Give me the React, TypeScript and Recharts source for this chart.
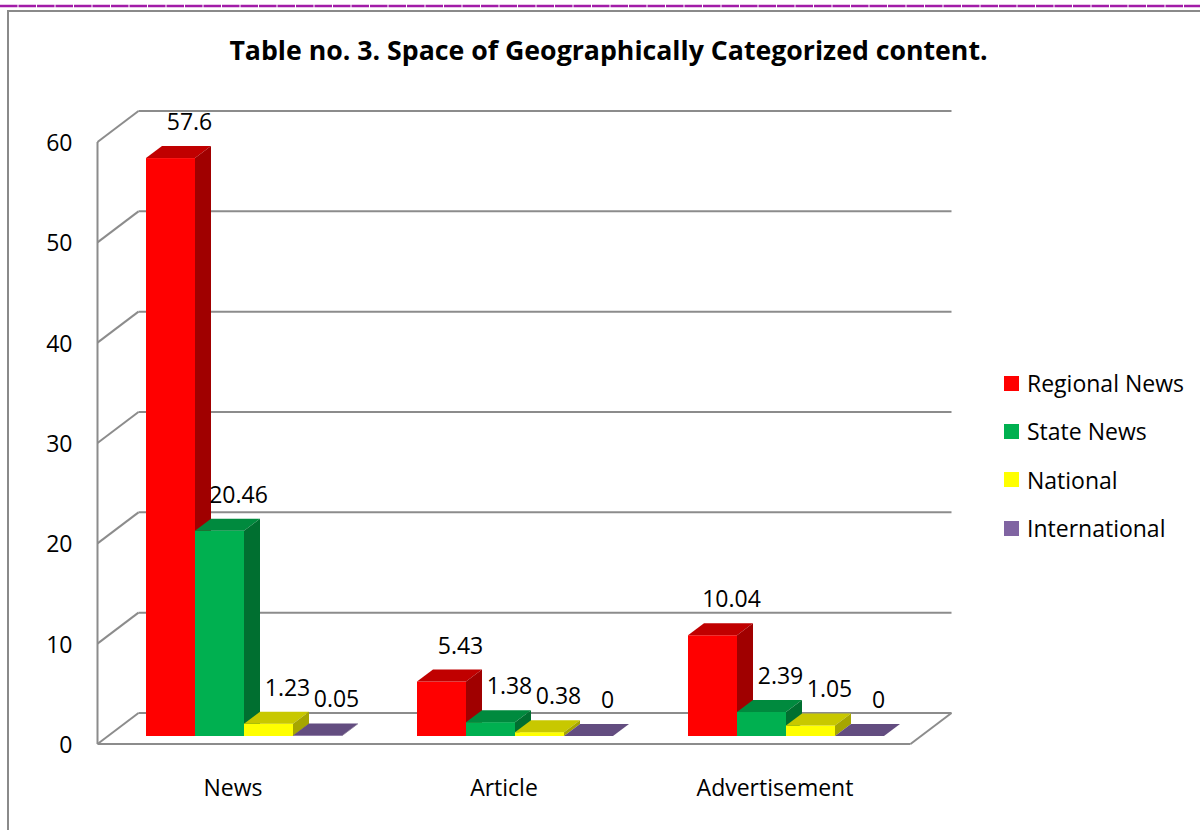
import React from 'react';
import { BarChart, Bar, XAxis, YAxis, CartesianGrid, LabelList } from 'recharts';

// ---- data ----
const categories = ['News', 'Article', 'Advertisement'];
const regionalNews = [57.6, 5.43, 10.04];
const stateNews = [20.46, 1.38, 2.39];
const national = [1.23, 0.38, 1.05];
const international = [0.05, 0, 0];
const yTicks = [0, 10, 20, 30, 40, 50, 60];
const seriesNames = ['Regional News', 'State News', 'National', 'International'];

const data = categories.map((c, i) => ({
  name: c,
  regional: regionalNews[i],
  state: stateNews[i],
  national: national[i],
  international: international[i],
}));

// ---- style / layout ----
const W = 1200;
const H = 830;
const FONT = '"Open Sans", sans-serif';
const FS = 23;
const GRID = '#8c8c8c';
const MARGIN = { top: 134, right: 278.5, left: 48.5, bottom: 34 };
const Y_AXIS_W = 60;
const X_AXIS_H = 60;
const PLOT_LEFT = MARGIN.left + Y_AXIS_W;
const PLOT_RIGHT = W - MARGIN.right;
const PLOT_BOTTOM = H - MARGIN.bottom - X_AXIS_H;
const PLOT_TOP = MARGIN.top;
// depth offsets relative to the bar plane
const FRONT = { dx: -11, dy: 8 };
const BACK = { dx: 30, dy: -23 };
const BAR_D = { dx: 16, dy: -12 };

const palettes = [
  { front: '#FF0000', top: '#C00000', side: '#A00000' },
  { front: '#00B050', top: '#008A3E', side: '#006F30' },
  { front: '#FFFF00', top: '#C8C800', side: '#A6A600' },
  { front: '#8064A2', top: '#634D80', side: '#4F3D66' },
];
const keys = ['regional', 'state', 'national', 'international'];

const makeShape = (pal: any) => (props: any) => {
  const { x, y, width, height } = props;
  if (x == null || y == null) return <g />;
  const h = Math.max(0, height || 0);
  const { dx, dy } = BAR_D;
  return (
    <g>
      <rect x={x} y={y} width={width} height={h} fill={pal.front} />
      <polygon
        points={`${x},${y} ${x + dx},${y + dy} ${x + width + dx},${y + dy} ${x + width},${y}`}
        fill={pal.top}
      />
      <polygon
        points={`${x + width},${y} ${x + width + dx},${y + dy} ${x + width + dx},${y + h + dy} ${x + width},${y + h}`}
        fill={pal.side}
      />
    </g>
  );
};

const renderLabel = (props: any) => {
  const { x, y, width, value } = props;
  if (x == null) return null;
  return (
    <text
      x={x + width / 2 + 19}
      y={y + BAR_D.dy - 25}
      textAnchor="middle"
      dominantBaseline="central"
      fontFamily={FONT}
      fontSize={FS}
      fill="#000"
    >
      {value}
    </text>
  );
};

const gridLine = (p: any) => {
  const { y1, index } = p;
  const fx1 = PLOT_LEFT + FRONT.dx;
  const fy = y1 + FRONT.dy;
  const bx1 = PLOT_LEFT + BACK.dx;
  const bx2 = PLOT_RIGHT + BACK.dx;
  const by = y1 + BACK.dy;
  const isBottom = Math.abs(y1 - PLOT_BOTTOM) < 0.5;
  const isTop = Math.abs(y1 - PLOT_TOP) < 0.5;
  return (
    <g key={`gl-${index}`}>
      <line x1={fx1} y1={fy} x2={bx1} y2={by} stroke={GRID} strokeWidth={2} />
      <line x1={bx1} y1={by} x2={bx2} y2={by} stroke={GRID} strokeWidth={2} />
      {isBottom && (
        <>
          <line x1={fx1} y1={fy} x2={PLOT_RIGHT + FRONT.dx} y2={fy} stroke={GRID} strokeWidth={2} />
          <line x1={PLOT_RIGHT + FRONT.dx} y1={fy} x2={bx2} y2={by} stroke={GRID} strokeWidth={2} />
        </>
      )}
      {isTop && (
        <line x1={fx1} y1={fy} x2={fx1} y2={PLOT_BOTTOM + FRONT.dy} stroke={GRID} strokeWidth={2} />
      )}
    </g>
  );
};

const YTick = (props: any) => {
  const { x, y, payload } = props;
  return (
    <text
      x={x + FRONT.dx - 25}
      y={y + FRONT.dy}
      textAnchor="end"
      dominantBaseline="central"
      fontFamily={FONT}
      fontSize={FS}
      fill="#000"
    >
      {payload.value}
    </text>
  );
};

const XTick = (props: any) => {
  const { x, payload } = props;
  return (
    <text
      x={x + FRONT.dx}
      y={PLOT_BOTTOM + 51}
      textAnchor="middle"
      dominantBaseline="central"
      fontFamily={FONT}
      fontSize={FS}
      fill="#000"
    >
      {payload.value}
    </text>
  );
};

export default function App() {
  return (
    <div style={{ position: 'absolute', left: 0, top: 0, width: W, height: H, background: '#fff', overflow: 'hidden' }}>
      {/* purple rule at top */}
      <svg style={{ position: 'absolute', left: 0, top: 0 }} width={W} height={10}>
        <line x1={0} y1={6} x2={W} y2={6} stroke="#A21CA8" strokeWidth={2.5} strokeDasharray="17.5 1" />
      </svg>
      {/* chart frame */}
      <div
        style={{
          position: 'absolute', left: 7, top: 10, width: W + 20, height: H + 20,
          borderLeft: '2px solid #8a8a8a', borderTop: '2px solid #8a8a8a',
        }}
      />
      <div
        style={{
          position: 'absolute', left: 0, top: 32, width: 1217, textAlign: 'center',
          fontFamily: FONT, fontWeight: 700, fontSize: 26.7, color: '#000', lineHeight: '36px',
        }}
      >
        Table no. 3. Space of Geographically Categorized content.
      </div>
      <div style={{ position: 'absolute', left: 0, top: 0 }}>
        <BarChart
          width={W}
          height={H}
          data={data}
          margin={MARGIN}
          barCategoryGap={37.5}
          barGap={0}
        >
          <CartesianGrid horizontal={gridLine} vertical={false} />
          <XAxis
            dataKey="name"
            height={X_AXIS_H}
            axisLine={false}
            tickLine={false}
            tickSize={0}
            tickMargin={0}
            tick={<XTick />}
            interval={0}
          />
          <YAxis
            width={Y_AXIS_W}
            domain={[0, 60]}
            ticks={yTicks}
            axisLine={false}
            tickLine={false}
            tickSize={0}
            tickMargin={0}
            tick={<YTick />}
            interval={0}
          />
          {keys.map((k, i) => (
            <Bar
              key={k}
              dataKey={k}
              name={seriesNames[i]}
              fill={palettes[i].front}
              shape={makeShape(palettes[i])}
              isAnimationActive={false}
            >
              <LabelList dataKey={k} content={renderLabel} />
            </Bar>
          ))}
        </BarChart>
      </div>
      {/* legend */}
      <div style={{ position: 'absolute', left: 1004, top: 359, fontFamily: FONT, fontSize: FS, color: '#000' }}>
        {seriesNames.map((n, i) => (
          <div key={n} style={{ display: 'flex', alignItems: 'center', height: 48.3, whiteSpace: 'nowrap' }}>
            <div style={{ width: 15, height: 15, background: palettes[i].front, marginRight: 8 }} />
            <span>{n}</span>
          </div>
        ))}
      </div>
    </div>
  );
}
